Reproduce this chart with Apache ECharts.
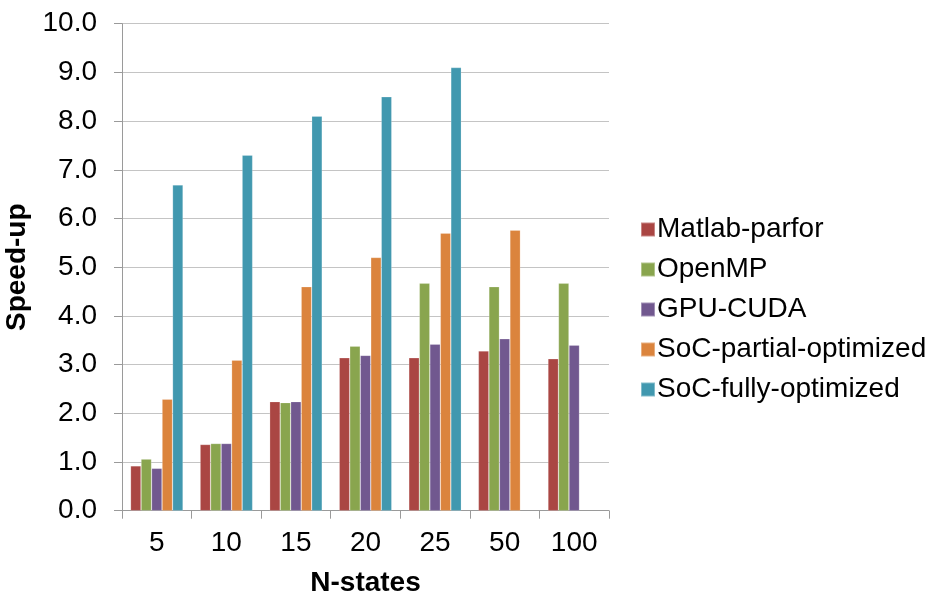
<!DOCTYPE html>
<html>
<head>
<meta charset="utf-8">
<script src="https://cdn.jsdelivr.net/npm/echarts@6/dist/echarts.min.js"></script>
<style>
  html, body { margin: 0; padding: 0; background: #fff; }
  #chart { width: 932px; height: 594px; }
</style>
</head>
<body>
<div id="chart"></div>
<script>
// Speed-up per number of states, one series per implementation
const categories = ['5', '10', '15', '20', '25', '50', '100'];
const seriesNames = ['Matlab-parfor', 'OpenMP', 'GPU-CUDA', 'SoC-partial-optimized', 'SoC-fully-optimized'];
const matlabParfor = [0.92, 1.36, 2.24, 3.14, 3.14, 3.28, 3.12];
const openMP = [1.06, 1.38, 2.22, 3.38, 4.67, 4.60, 4.67];
const gpuCuda = [0.87, 1.38, 2.24, 3.19, 3.42, 3.53, 3.40];
const socPartial = [2.29, 3.09, 4.60, 5.20, 5.70, 5.76, null];
const socFully = [6.69, 7.30, 8.10, 8.50, 9.10, null, null];
const yTicks = [0, 1, 2, 3, 4, 5, 6, 7, 8, 9, 10];

const colors = ['#AA4643', '#89A54E', '#71588F', '#DB843D', '#4198AF'];
const values = [matlabParfor, openMP, gpuCuda, socPartial, socFully];
const fontFamily = '"Liberation Sans", Arial, sans-serif';
const fontSize = 28;

const chart = echarts.init(document.getElementById('chart'), null, { renderer: 'canvas' });
chart.setOption({
  animation: false,
  color: colors,
  textStyle: { fontFamily: fontFamily, color: '#000' },
  grid: { left: 122, right: 323, top: 23.7, bottom: 83.3, containLabel: false, outerBoundsMode: 'none' },
  legend: {
    orient: 'vertical',
    left: 635,
    top: 210,
    itemWidth: 14,
    itemHeight: 14,
    itemGap: 11,
    icon: 'rect',
    data: seriesNames,
    textStyle: { fontSize: fontSize, fontFamily: fontFamily, color: '#000', padding: [0, 0, 0, -3], lineHeight: 29 }
  },
  xAxis: {
    type: 'category',
    data: categories,
    name: 'N-states',
    nameLocation: 'middle',
    nameGap: 59,
    nameTextStyle: { fontSize: fontSize, fontWeight: 'bold', color: '#000', fontFamily: fontFamily },
    axisLine: { show: true, lineStyle: { color: '#9A9A9A', width: 1 } },
    axisTick: { show: true, length: 8, lineStyle: { color: '#9A9A9A' } },
    axisLabel: { fontSize: fontSize, color: '#000', margin: 19, fontFamily: fontFamily }
  },
  yAxis: {
    type: 'value',
    min: yTicks[0],
    max: yTicks[yTicks.length - 1],
    interval: 1,
    name: 'Speed-up',
    nameLocation: 'middle',
    nameGap: 83,
    nameRotate: 90,
    nameTextStyle: { fontSize: fontSize, fontWeight: 'bold', color: '#000', fontFamily: fontFamily },
    axisLine: { show: true, lineStyle: { color: '#9A9A9A', width: 1 } },
    axisTick: { show: true, length: 8, lineStyle: { color: '#9A9A9A' } },
    axisLabel: {
      fontSize: fontSize, color: '#000', margin: 25, fontFamily: fontFamily,
      formatter: v => v.toFixed(1)
    },
    splitLine: { show: true, lineStyle: { color: '#C4C4C4', width: 1 } }
  },
  series: seriesNames.map((name, i) => ({
    name: name,
    type: 'bar',
    data: values[i],
    barGap: '0%',
    barCategoryGap: '24.5%',
    itemStyle: { color: colors[i], borderColor: 'rgba(255,255,255,0.35)', borderWidth: 0.6 }
  }))
});
</script>
</body>
</html>
